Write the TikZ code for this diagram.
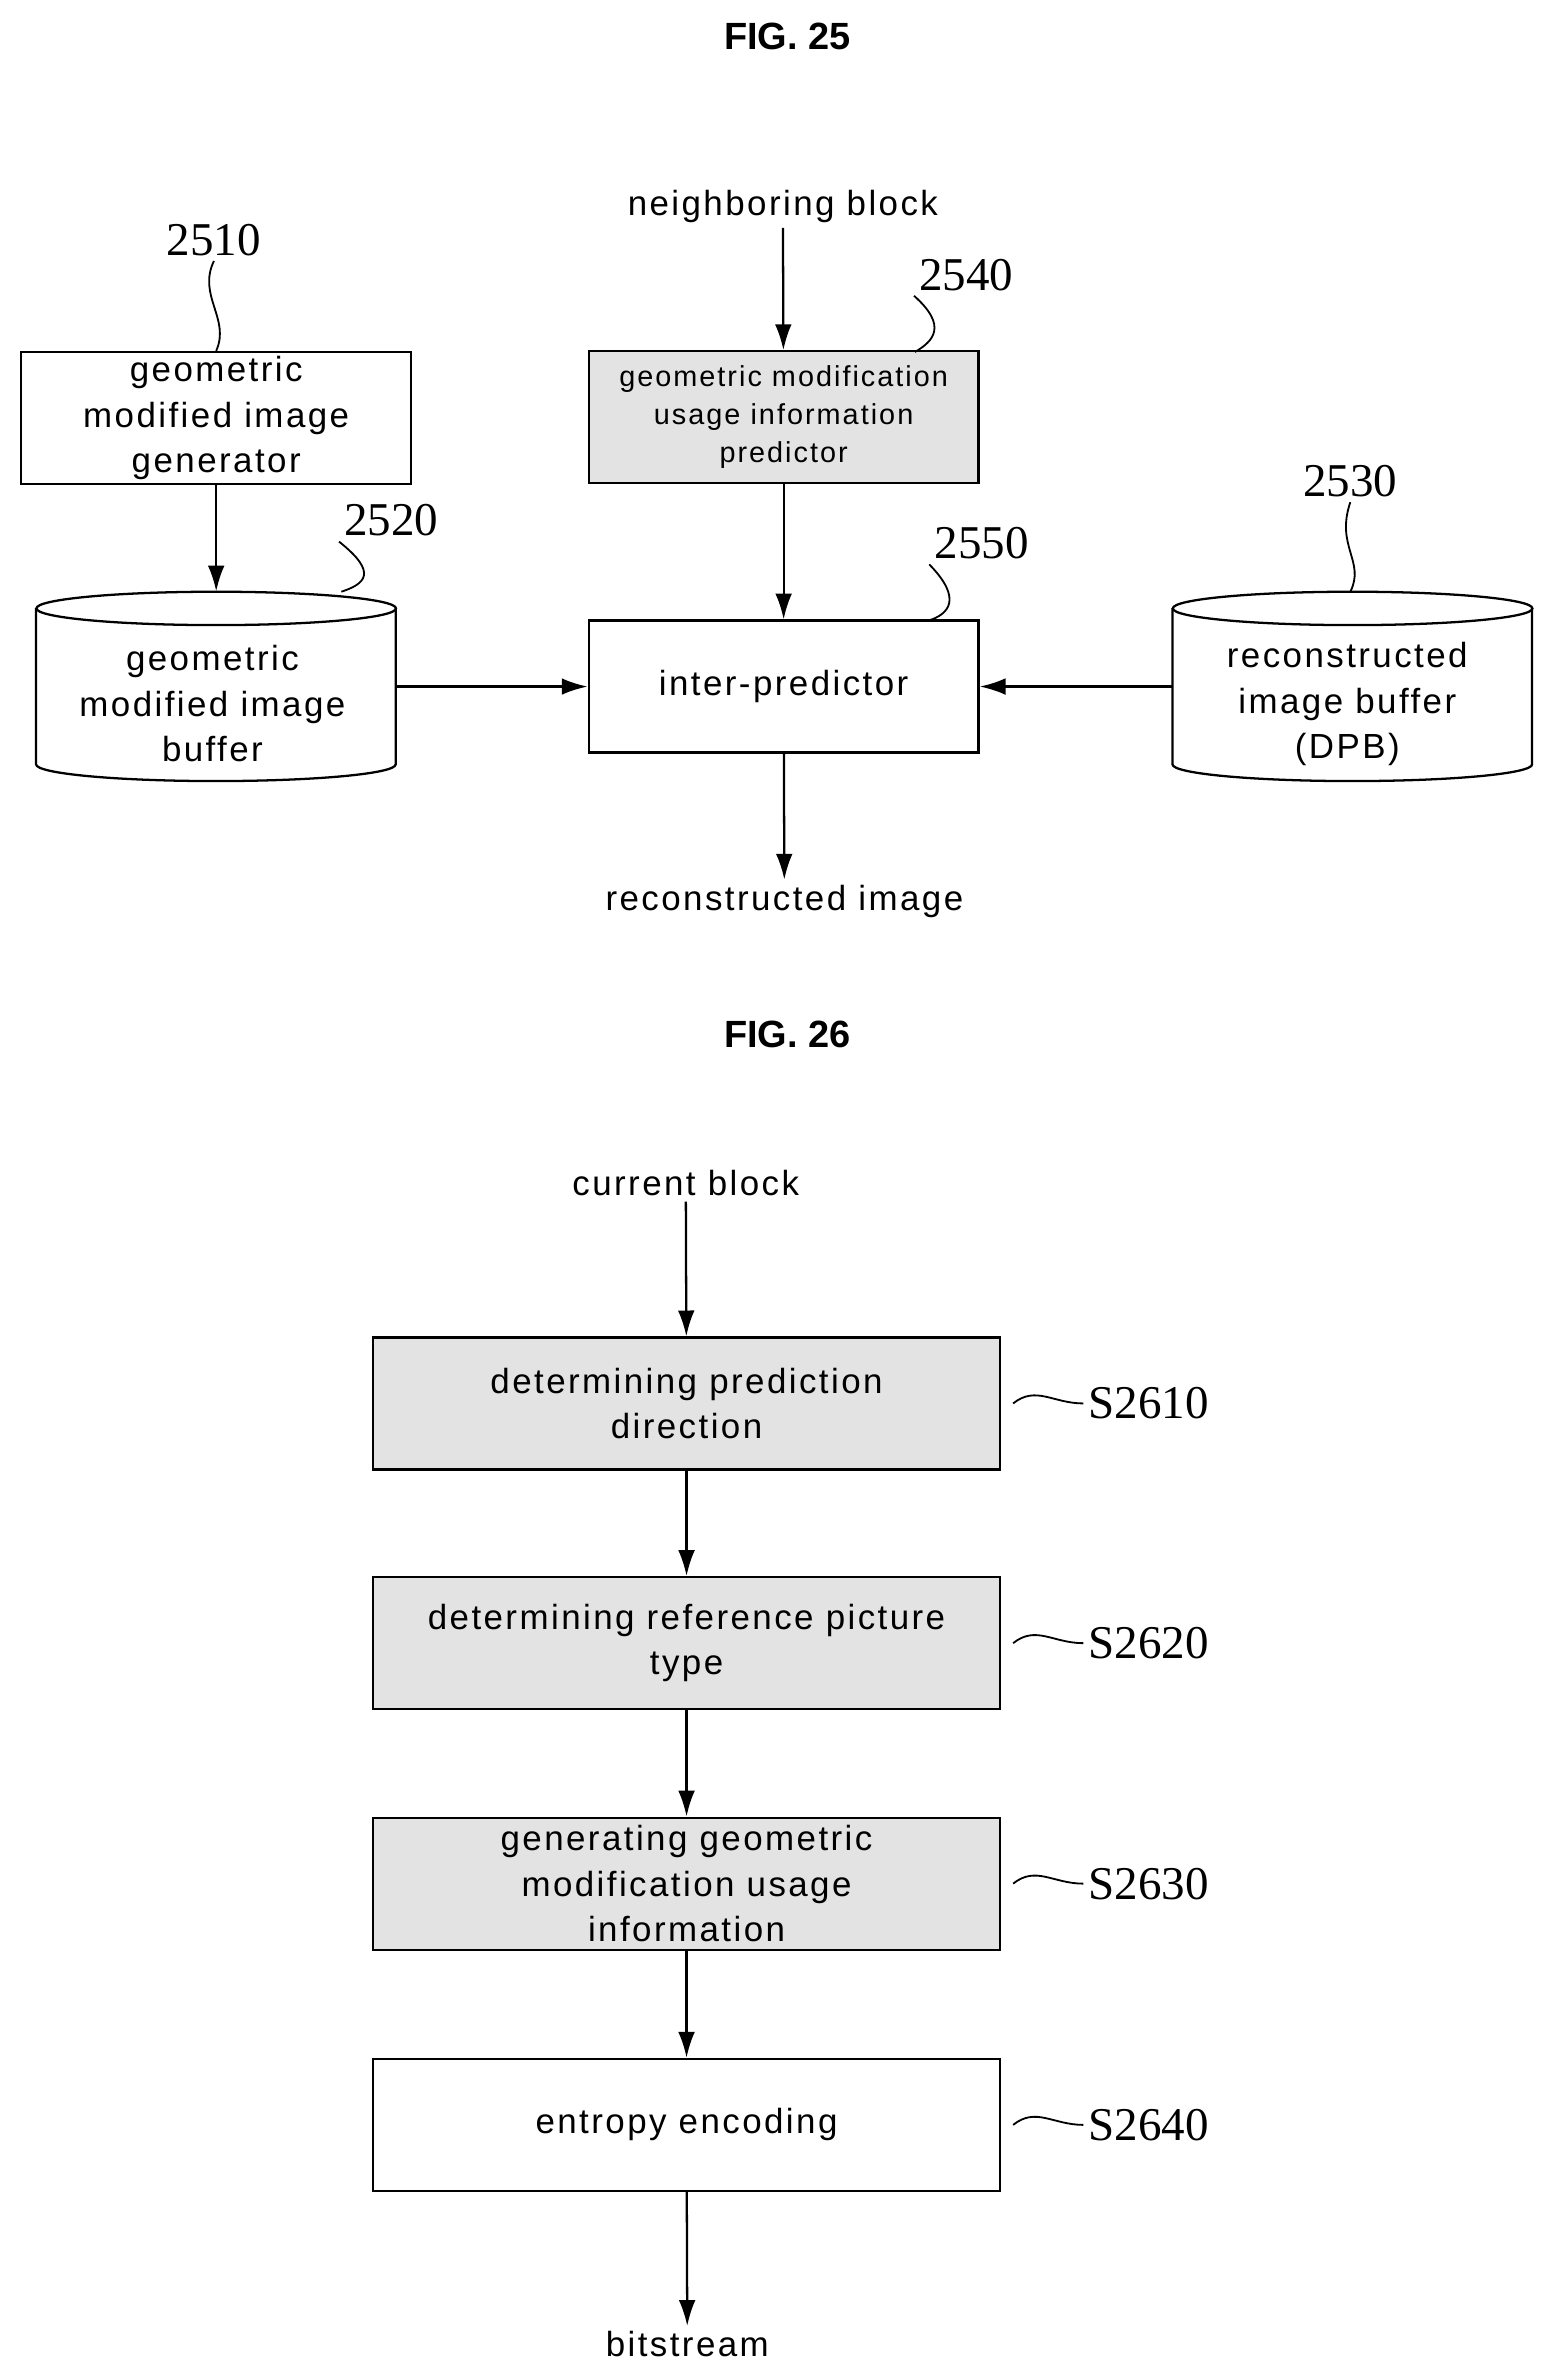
\documentclass[tikz,border=0pt]{standalone}
\usepackage{fontspec}
\setmainfont{Liberation Sans}[LetterSpace=7]
\newfontfamily\numfont{Liberation Serif}
\newfontfamily\titlefont{Liberation Sans}
\usetikzlibrary{shapes.geometric,arrows.meta}
\begin{document}
\begin{tikzpicture}[x=1pt,y=-1pt,
  box/.style={draw,line width=1.5pt,minimum width=257pt,minimum height=87pt,align=center,font=\fontsize{23}{30}\selectfont,inner sep=0pt},
  sbox/.style={box,fill=gray!22},
  cyl/.style={minimum width=237pt,minimum height=125pt,inner sep=0pt},
  ctext/.style={align=center,font=\fontsize{23}{30}\selectfont},
  txt/.style={font=\fontsize{23}{30}\selectfont},
  num/.style={font=\numfont\fontsize{31}{31}\selectfont},
  arr/.style={-{Latex[length=17pt,width=11pt]},line width=1.5pt},
  sq/.style={line width=1.2pt},
  cl/.style={line width=1.5pt},
  title/.style={font=\titlefont\bfseries\fontsize{25}{25}\selectfont}]
\useasboundingbox (0,0) rectangle (1024,1568);
\node[title] (t25) at (519,24) {FIG. 25};
\node[box] (b2510) at (142.5,275.5) {geometric\\modified image\\generator};
\node[cyl] (c2520) at (142.5,452.5) {};
\draw[cl] (c2520.north west) ++(0,11) -- ++(0,103) arc[start angle=180,end angle=0,x radius=118.5,y radius=11] -- ++(0,-103);
\draw[cl] (142.5,401) ellipse[x radius=118.5,y radius=11];
\node[ctext] (c2520t) at (140,464) {geometric\\modified image\\buffer};
\node[sbox,font=\fontsize{19}{25}\selectfont] (b2540) at (516.5,275) {geometric modification\\usage information\\predictor};
\node[box] (b2550) at (516.5,452.5) {inter{-}predictor};
\node[cyl] (c2530) at (891.5,452.5) {};
\draw[cl] (c2530.north west) ++(0,11) -- ++(0,103) arc[start angle=180,end angle=0,x radius=118.5,y radius=11] -- ++(0,-103);
\draw[cl] (891.5,401) ellipse[x radius=118.5,y radius=11];
\node[ctext] (c2530t) at (888,464) {reconstructed\\image buffer\\(DPB)};
\node[txt] (nb) at (516,136) {neighboring block};
\node[txt] (ri) at (517,594) {reconstructed image};
\node[num] (n2510) at (141,158) {2510};
\node[num] (n2520) at (258,343) {2520};
\node[num] (n2540) at (637,181) {2540};
\node[num] (n2550) at (647,358) {2550};
\node[num] (n2530) at (890,317) {2530};
\draw[sq] (n2510.south) .. controls (130,195) and (152,210) .. (b2510.north);
\draw[sq] (n2520.south west) .. controls (250,378) and (240,385) .. (225,390);
\draw[sq] (n2540.south west) .. controls (625,215) and (615,225) .. (603,232);
\draw[sq] (n2550.south west) .. controls (635,395) and (625,405) .. (612,409);
\draw[sq] (n2530.south) .. controls (880,360) and (900,370) .. (890,390);
\draw[arr] (b2510) -- (c2520);
\draw[arr] (nb) -- (b2540);
\draw[arr] (b2540) -- (b2550);
\draw[arr] (c2520) -- (b2550);
\draw[arr] (c2530) -- (b2550);
\draw[arr] (b2550) -- (ri);
\node[title] (t26) at (519,682) {FIG. 26};
\node[txt] (cb) at (452,780) {current block};
\node[sbox,minimum width=413pt] (s1) at (452.5,925) {determining prediction\\direction};
\node[sbox,minimum width=413pt] (s2) at (452.5,1083) {determining reference picture\\type};
\node[sbox,minimum width=413pt] (s3) at (452.5,1241.5) {generating geometric\\modification usage\\information};
\node[box,minimum width=413pt] (s4) at (452.5,1400.5) {entropy encoding};
\node[txt] (bs) at (453,1545) {bitstream};
\draw[arr] (cb) -- (s1);
\draw[arr] (s1) -- (s2);
\draw[arr] (s2) -- (s3);
\draw[arr] (s3) -- (s4);
\draw[arr] (s4) -- (bs);
\foreach \s/\y/\l in {s1/925/S2610,s2/1083/S2620,s3/1241.5/S2630,s4/1400.5/S2640}{
  \node[num,anchor=west] (l\l) at (714,\y) {\l};
  \draw[sq] (\s.east) ++(8,0) .. controls ++(15,-12) and ++(-20,0) .. (l\l.west);
}
\end{tikzpicture}
\end{document}
